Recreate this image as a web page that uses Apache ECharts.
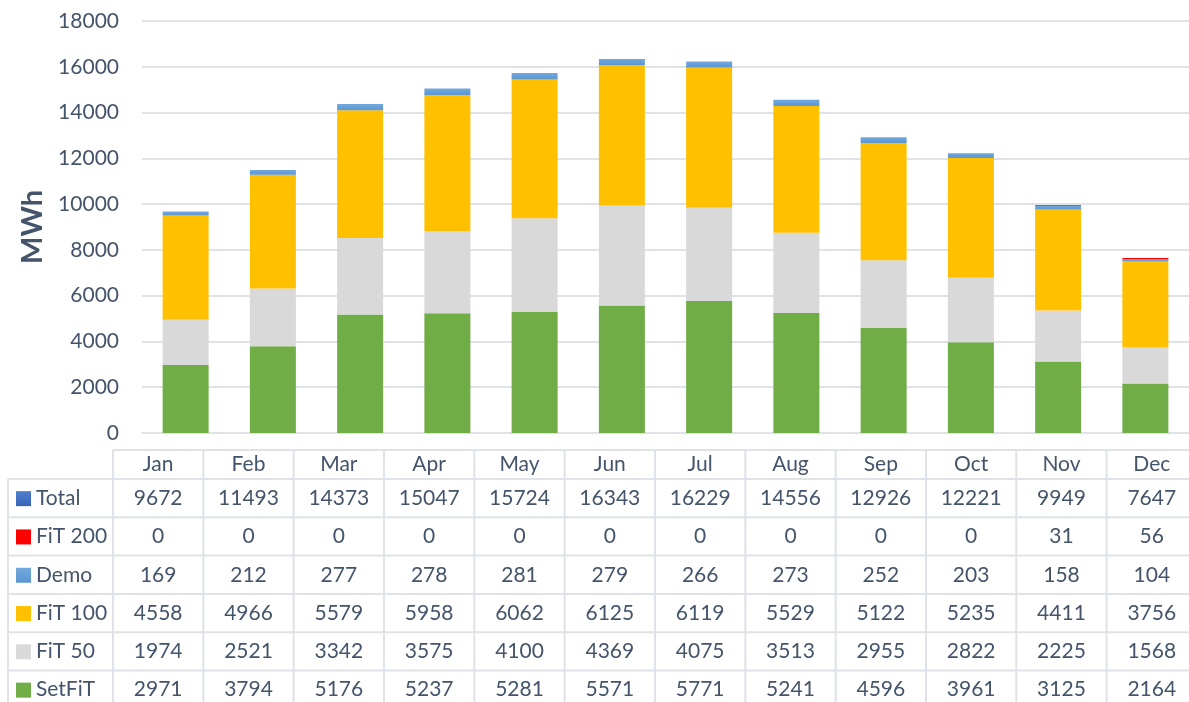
<!DOCTYPE html>
<html>
<head>
<meta charset="utf-8">
<script src="https://cdn.jsdelivr.net/npm/echarts@6/dist/echarts.min.js"></script>
<style>
  html, body { margin: 0; padding: 0; background: #fff; }
  #chart { width: 1189px; height: 702px; }
</style>
</head>
<body>
<div id="chart"></div>
<script>
"use strict";
var months = ['Jan', 'Feb', 'Mar', 'Apr', 'May', 'Jun', 'Jul', 'Aug', 'Sep', 'Oct', 'Nov', 'Dec'];
var total  = [9672, 11493, 14373, 15047, 15724, 16343, 16229, 14556, 12926, 12221, 9949, 7647];
var fit200 = [0, 0, 0, 0, 0, 0, 0, 0, 0, 0, 31, 56];
var demo   = [169, 212, 277, 278, 281, 279, 266, 273, 252, 203, 158, 104];
var fit100 = [4558, 4966, 5579, 5958, 6062, 6125, 6119, 5529, 5122, 5235, 4411, 3756];
var fit50  = [1974, 2521, 3342, 3575, 4100, 4369, 4075, 3513, 2955, 2822, 2225, 1568];
var setfit = [2971, 3794, 5176, 5237, 5281, 5571, 5771, 5241, 4596, 3961, 3125, 2164];
var yTicks = [0, 2000, 4000, 6000, 8000, 10000, 12000, 14000, 16000, 18000];

var textColor = '#44546a';
var lineColor = '#dfe3e8';
var font = 'Lato, "Open Sans", sans-serif';
var fontSize = 21;

function grad(top, bottom) {
  return new echarts.graphic.LinearGradient(0, 0, 0, 1, [
    { offset: 0, color: top }, { offset: 1, color: bottom }
  ]);
}

// table rows, top to bottom
var rows = [
  { name: 'Total',   data: total,  color: grad('#4f7fd0', '#3a64b4') },
  { name: 'FiT 200', data: fit200, color: '#ff0000' },
  { name: 'Demo',    data: demo,   color: grad('#72a9de', '#5b96d0') },
  { name: 'FiT 100', data: fit100, color: '#ffc000' },
  { name: 'FiT 50',  data: fit50,  color: '#d9d9d9' },
  { name: 'SetFiT',  data: setfit, color: '#70ad47' }
];

// table geometry
var tLeft = 113, colW = 90.33, hdrTop = 450, hdrBot = 479, rowH = 38.3, rhLeft = 8;
var tRight = tLeft + colW * months.length;

var g = [];
function hline(x1, x2, y) {
  g.push({ type: 'line', shape: { x1: x1, y1: y, x2: x2, y2: y }, style: { stroke: lineColor, lineWidth: 2 }, silent: true });
}
function vline(x, y1, y2) {
  g.push({ type: 'line', shape: { x1: x, y1: y1, x2: x, y2: y2 }, style: { stroke: lineColor, lineWidth: 2 }, silent: true });
}
function txt(s, x, y, align) {
  g.push({ type: 'text', x: x, y: y, silent: true,
    style: { text: s, fill: textColor, font: fontSize + 'px ' + font, align: align || 'center', verticalAlign: 'middle' } });
}

var bottomY = hdrBot + rowH * rows.length;
hline(tLeft, tRight, hdrTop);
for (var r = 0; r <= rows.length; r++) hline(rhLeft, tRight, hdrBot + r * rowH);
for (var c = 0; c <= months.length; c++) vline(tLeft + c * colW, hdrTop, bottomY);
vline(rhLeft, hdrBot, bottomY);

months.forEach(function (m, i) {
  txt(m, tLeft + (i + 0.5) * colW, (hdrTop + hdrBot) / 2);
});
rows.forEach(function (row, r) {
  var cy = hdrBot + (r + 0.5) * rowH;
  g.push({ type: 'rect', shape: { x: 16, y: cy - 7, width: 15, height: 15 }, style: { fill: row.color }, silent: true });
  txt(row.name, 36, cy, 'left');
  row.data.forEach(function (v, i) {
    txt(String(v), tLeft + (i + 0.5) * colW, cy);
  });
});

var stackSeries = [
  { name: 'SetFiT',  data: setfit, color: '#70ad47' },
  { name: 'FiT 50',  data: fit50,  color: '#d9d9d9' },
  { name: 'FiT 100', data: fit100, color: '#ffc000' },
  { name: 'Demo',    data: demo,   color: grad('#72a9de', '#5b96d0') },
  { name: 'FiT 200', data: fit200, color: '#ff0000' }
];

var chart = echarts.init(document.getElementById('chart'));
chart.setOption({
  animation: false,
  backgroundColor: '#fff',
  textStyle: { fontFamily: font, color: textColor },
  grid: { left: 142, top: 21, width: 1056, bottom: 269 },
  xAxis: {
    type: 'category',
    data: months,
    axisLine: { show: true, lineStyle: { color: lineColor, width: 2 } },
    axisTick: { show: false },
    axisLabel: { show: false }
  },
  yAxis: {
    type: 'value',
    min: yTicks[0],
    max: yTicks[yTicks.length - 1],
    interval: 2000,
    name: 'MWh',
    nameLocation: 'middle',
    nameGap: 94,
    nameTextStyle: { fontSize: 29, fontWeight: 'bold', color: textColor, fontFamily: font },
    axisLine: { show: false },
    axisTick: { show: false },
    axisLabel: { fontSize: fontSize, color: textColor, margin: 23, fontFamily: font,
      formatter: function (v) { return String(v); } },
    splitLine: { lineStyle: { color: lineColor, width: 2 } }
  },
  series: stackSeries.map(function (s) {
    return {
      name: s.name,
      type: 'bar',
      stack: 'all',
      barWidth: 46,
      data: s.data,
      itemStyle: { color: s.color }
    };
  }),
  graphic: g
});
</script>
</body>
</html>
